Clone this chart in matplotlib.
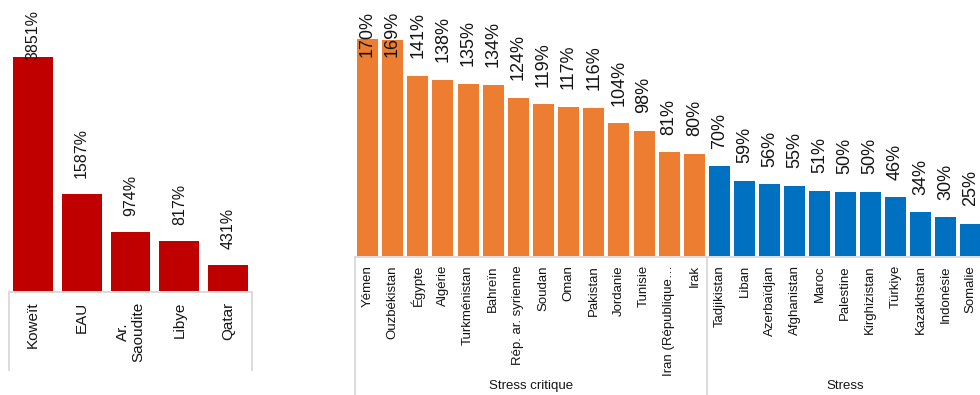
import matplotlib
matplotlib.use("Agg")
import matplotlib.pyplot as plt
from matplotlib.lines import Line2D

plt.rcParams["font.family"] = ["Liberation Sans", "DejaVu Sans"]

W, H = 980, 395

# pays du Golfe (hors échelle)
pays_golfe = ["Koweït", "EAU", "Ar.\nSaoudite", "Libye", "Qatar"]
valeurs_golfe = [3851, 1587, 974, 817, 431]

# stress critique
pays_critique = ["Yémen", "Ouzbékistan", "Égypte", "Algérie", "Turkménistan",
                 "Bahreïn", "Rép. ar. syrienne", "Soudan", "Oman", "Pakistan",
                 "Jordanie", "Tunisie", "Iran (République…", "Irak"]
valeurs_critique = [170, 169, 141, 138, 135, 134, 124, 119, 117, 116, 104, 98, 81, 80]

# stress
pays_stress = ["Tadjikistan", "Liban", "Azerbaïdjan", "Afghanistan", "Maroc",
               "Palestine", "Kirghizistan", "Türkiye", "Kazakhstan", "Indonésie",
               "Somalie"]
valeurs_stress = [70, 59, 56, 55, 51, 50, 50, 46, 34, 30, 25]

groupes = ["Stress critique", "Stress"]

ROUGE = "#C00000"
ORANGE = "#ED7D31"
BLEU = "#0070C0"
GRIS = "#D9D9D9"
TEXTE = "#141414"


def axes_px(fig, left, top, right, bottom):
    return fig.add_axes([left / W, 1 - bottom / H, (right - left) / W, (bottom - top) / H])


def ligne_px(fig, x0, y0, x1, y1):
    fig.add_artist(Line2D([x0 / W, x1 / W], [1 - y0 / H, 1 - y1 / H],
                          transform=fig.transFigure, color=GRIS, lw=1.3))


def barres(ax, noms, valeurs, couleurs, largeur, ymax, taille_val, ecart_val,
           taille_nom, ecart_nom):
    x = list(range(len(valeurs)))
    ax.bar(x, valeurs, width=largeur, color=couleurs)
    ax.set_xlim(-0.5, len(valeurs) - 0.5)
    ax.set_ylim(0, ymax)
    ax.axis("off")
    etiquettes = []
    for i, v in enumerate(valeurs):
        t = ax.annotate("{}%".format(v), xy=(i, v), xytext=(0, ecart_val),
                        textcoords="offset points", rotation=90, ha="center",
                        va="bottom", fontsize=taille_val, color=TEXTE,
                        annotation_clip=False)
        etiquettes.append(t)
    for i, nom in enumerate(noms):
        ax.annotate(nom, xy=(i, 0), xytext=(0, -ecart_nom), textcoords="offset points",
                    rotation=90, ha="center", va="top", fontsize=taille_nom,
                    color=TEXTE, multialignment="center", linespacing=1.1,
                    annotation_clip=False)
    return etiquettes


fig = plt.figure(figsize=(W / 100, H / 100), dpi=100)

ax1 = axes_px(fig, 8.6, 9.5, 252.4, 290.7)
lab1 = barres(ax1, pays_golfe, valeurs_golfe, ROUGE, 0.82, 4628,
              11.5, 11.5, 11, 7.9)

noms2 = pays_critique + pays_stress
valeurs2 = valeurs_critique + valeurs_stress
couleurs2 = [ORANGE] * len(valeurs_critique) + [BLEU] * len(valeurs_stress)
pas = 25.14
g2 = 354.9
d2 = g2 + pas * len(valeurs2)
sep = g2 + pas * len(valeurs_critique)
ax2 = axes_px(fig, g2, 11, d2, 255.7)
lab2 = barres(ax2, noms2, valeurs2, couleurs2, 0.835, 192,
              13, 12.6, 9.5, 6.7)

# les étiquettes qui dépassent sont ramenées dans la zone de traçage
fig.canvas.draw()
rend = fig.canvas.get_renderer()
for ax, labs in ((ax1, lab1), (ax2, lab2)):
    haut = ax.get_window_extent(rend).y1
    for t in labs:
        bb = t.get_window_extent(rend)
        if bb.y1 > haut:
            dx, dy = t.xyann
            t.xyann = (dx, dy - (bb.y1 - haut) * 72 / fig.dpi)

# cadres de l'axe des catégories
ligne_px(fig, 8.6, 291.5, 252.4, 291.5)
ligne_px(fig, 8.6, 291.5, 8.6, 370)
ligne_px(fig, 252.4, 291.5, 252.4, 370)

ligne_px(fig, g2, 256.5, d2, 256.5)
for xl in (g2, sep, d2):
    ligne_px(fig, xl, 256.5, xl, 395)

fig.text((g2 + sep) / 2 / W, 1 - 386 / H, groupes[0], ha="center", va="center",
         fontsize=9.5, color=TEXTE)
fig.text((sep + d2) / 2 / W, 1 - 386 / H, groupes[1], ha="center", va="center",
         fontsize=9.5, color=TEXTE)

fig.savefig("out.png", dpi=100)
